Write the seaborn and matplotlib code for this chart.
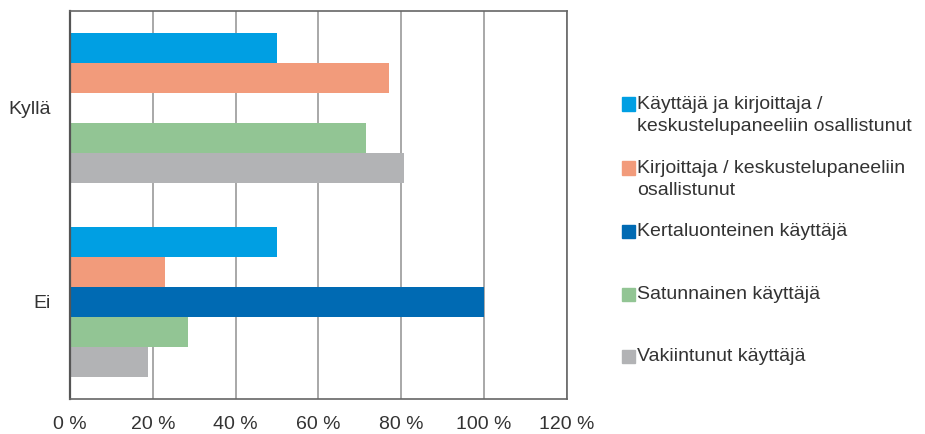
import matplotlib
matplotlib.use("Agg")
import matplotlib.pyplot as plt
import matplotlib.patches as mpatches
import pandas as pd
import seaborn as sns

categories = ["Kyllä", "Ei"]
series = [
    "Käyttäjä ja kirjoittaja /\nkeskustelupaneeliin osallistunut",
    "Kirjoittaja / keskustelupaneeliin\nosallistunut",
    "Kertaluonteinen käyttäjä",
    "Satunnainen käyttäjä",
    "Vakiintunut käyttäjä",
]
kylla_values = [50, 77, 0, 71.4, 80.7]
ei_values = [50, 23, 100, 28.6, 18.9]
colors = ["#009FE3", "#F29B7B", "#006AB3", "#92C594", "#B2B3B5"]
xticks = [0, 20, 40, 60, 80, 100, 120]

rows = []
for s, k, e in zip(series, kylla_values, ei_values):
    rows.append({"vastaus": "Kyllä", "ryhmä": s, "osuus": k})
    rows.append({"vastaus": "Ei", "ryhmä": s, "osuus": e})
df = pd.DataFrame(rows)

sns.set_style("white")
plt.rcParams["font.family"] = ["Liberation Sans", "DejaVu Sans"]
text_col = "#333333"

fig = plt.figure(figsize=(9.25, 4.34), dpi=100)
ax = fig.add_axes([0.0757, 0.081, 0.537, 0.894])

sns.barplot(
    data=df, x="osuus", y="vastaus", hue="ryhmä", order=categories,
    hue_order=series, palette=colors, orient="h", width=0.77,
    linewidth=0, saturation=1, legend=False, ax=ax,
)

ax.set_xlim(0, 120)
ax.set_ylim(1.5, -0.5)
ax.set_xticks(xticks)
ax.set_xticklabels([f"{t} %" for t in xticks])
ax.set_xlabel("")
ax.set_ylabel("")
ax.xaxis.grid(True, color="#999999", linewidth=1.2)
ax.set_axisbelow(True)
ax.tick_params(axis="x", length=0, pad=12, labelsize=14, labelcolor=text_col)
ax.tick_params(axis="y", length=0, pad=14, labelsize=14, labelcolor=text_col)
for side in ["top", "right", "bottom"]:
    ax.spines[side].set_color("#666666")
    ax.spines[side].set_linewidth(1.2)
ax.spines["left"].set_color("#555555")
ax.spines["left"].set_linewidth(1.6)

# legend: square aligned with first line of each label
W, H = 925, 434
ys = [104, 168, 231, 294, 356]
for lab, col, y in zip(series, colors, ys):
    fig.patches.append(mpatches.Rectangle(
        (622 / W, 1 - (y + 6.5) / H), 13 / W, 13 / H,
        transform=fig.transFigure, color=col, figure=fig))
    fig.text(637 / W, 1 - (y - 8) / H, lab, ha="left", va="top",
             fontsize=14, color=text_col, linespacing=1.35)

fig.savefig("out.png", dpi=100)
